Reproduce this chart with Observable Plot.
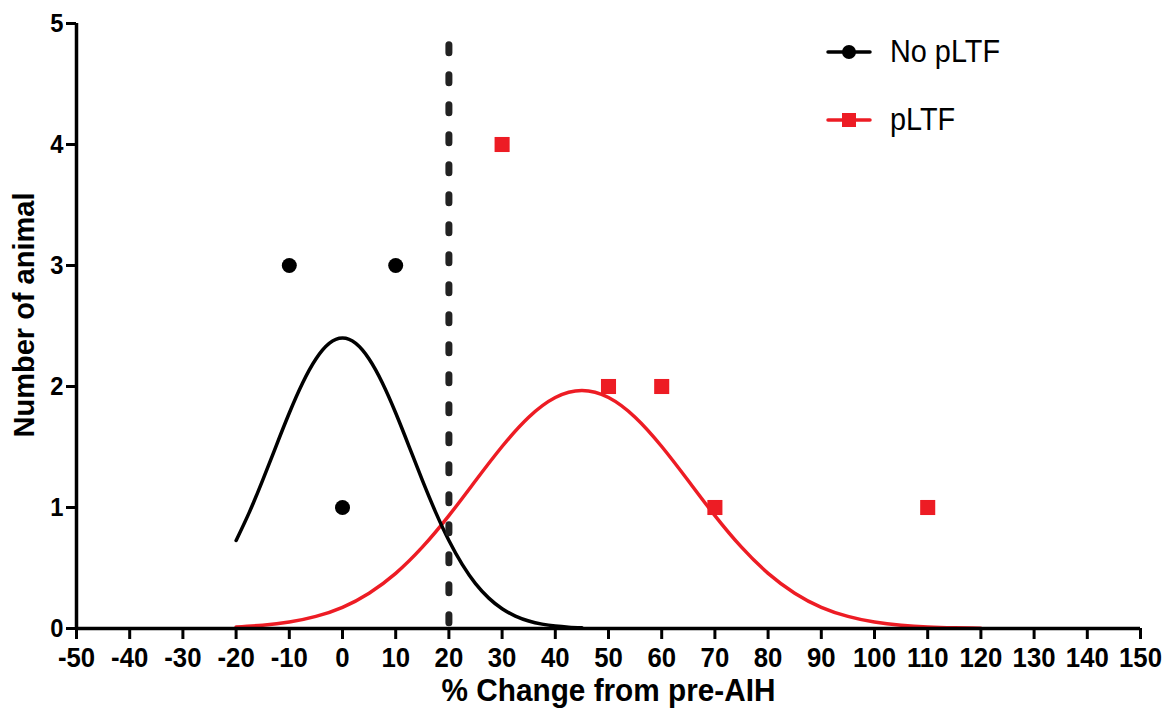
<!DOCTYPE html>
<html>
<head>
<meta charset="utf-8">
<script src="https://cdn.jsdelivr.net/npm/d3@7"></script>
<script src="https://cdn.jsdelivr.net/npm/@observablehq/plot@0.6"></script>
<style>
  html, body { margin: 0; padding: 0; background: #fff; }
  #wrap { position: relative; width: 1176px; height: 722px; font-family: "Liberation Sans", Arial, sans-serif; }
  #legend { position: absolute; left: 826px; top: 28px; }
  .item { display: flex; align-items: center; height: 48px; margin-bottom: 20px; }
  .item span { font-size: 31px; margin-left: 18px; color: #000; display: inline-block; transform: scaleX(0.93); transform-origin: left center; }
  #chart svg g[aria-label="x-axis tick label"] { font-size: 28px !important; font-weight: bold !important; }
  #chart svg g[aria-label="y-axis tick label"] { font-size: 25px !important; font-weight: bold !important; }
</style>
</head>
<body>
<div id="wrap">
  <div id="chart"></div>
  <div id="legend"></div>
</div>
<script>
// Data points (histogram counts)
const noX = [-10, 10, 0];
const noY = [3, 3, 1];
const pX = [30, 50, 60, 70, 110];
const pY = [4, 2, 2, 1, 1];

// Fitted Gaussian curves
const noCurveX = [-20, -17.5, -15, -12.5, -10, -7.5, -5, -2.5, 0, 2.5, 5, 7.5, 10, 12.5, 15, 17.5, 20, 22.5, 25, 27.5, 30, 32.5, 35, 37.5, 40, 42.5, 45];
const noCurveY = [0.727, 0.962, 1.226, 1.506, 1.781, 2.029, 2.227, 2.356, 2.40, 2.356, 2.227, 2.029, 1.781, 1.506, 1.226, 0.962, 0.727, 0.530, 0.371, 0.251, 0.163, 0.103, 0.062, 0.036, 0.020, 0.011, 0.006];
const pCurveX = [-20, -15, -10, -5, 0, 5, 10, 15, 20, 25, 30, 35, 40, 45, 50, 55, 60, 65, 70, 75, 80, 85, 90, 95, 100, 105, 110, 115, 120];
const pCurveY = [0.013, 0.027, 0.053, 0.100, 0.175, 0.292, 0.456, 0.672, 0.933, 1.221, 1.504, 1.746, 1.909, 1.967, 1.909, 1.746, 1.504, 1.221, 0.933, 0.672, 0.456, 0.292, 0.175, 0.100, 0.053, 0.027, 0.013, 0.006, 0.002];

const xTicks = [-50, -40, -30, -20, -10, 0, 10, 20, 30, 40, 50, 60, 70, 80, 90, 100, 110, 120, 130, 140, 150];
const yTicks = [0, 1, 2, 3, 4, 5];
const threshold = 20;
const thresholdTop = 4.82;
const thresholdBottom = -0.09;

const xLabel = "% Change from pre-AIH";
const yLabel = "Number of animal";
const seriesNames = ["No pLTF", "pLTF"];
const RED = "#ed1c24";

const noPts = noX.map((x, i) => ({x, y: noY[i]}));
const pPts = pX.map((x, i) => ({x, y: pY[i]}));
const noCurve = noCurveX.map((x, i) => ({x, y: noCurveY[i]}));
const pCurve = pCurveX.map((x, i) => ({x, y: pCurveY[i]}));

const chart = Plot.plot({
  width: 1176,
  height: 722,
  marginLeft: 76,
  marginRight: 36,
  marginTop: 23,
  marginBottom: 94,
  style: {fontFamily: "'Liberation Sans', Arial, sans-serif", color: "#000", background: "#fff"},
  x: {domain: [-50, 150], ticks: xTicks},
  y: {domain: [0, 5], ticks: yTicks},
  marks: [
    Plot.axisX({ticks: xTicks, tickFormat: d => String(d), tickSize: 11, tickPadding: 8, fontSize: 28, fontWeight: "bold", strokeWidth: 3, label: null}),
    Plot.axisY({ticks: yTicks, tickFormat: d => String(d), tickSize: 10, tickPadding: 3, fontSize: 25, fontWeight: "bold", strokeWidth: 3, label: null}),
    Plot.line(pCurve, {x: "x", y: "y", stroke: RED, strokeWidth: 3.5, curve: "natural"}),
    Plot.line(noCurve, {x: "x", y: "y", stroke: "#000", strokeWidth: 3.5, curve: "natural"}),
    Plot.ruleY([0], {strokeWidth: 3.5, stroke: "#000"}),
    Plot.ruleX([-50], {y1: 0, y2: 5, strokeWidth: 3.5, stroke: "#000"}),
    Plot.ruleX([threshold], {y1: thresholdTop, y2: thresholdBottom, stroke: "#222", strokeWidth: 7, strokeDasharray: "8,22", strokeLinecap: "round"}),
    Plot.dot(noPts, {x: "x", y: "y", r: 7.5, fill: "#000", stroke: "none"}),
    Plot.dot(pPts, {x: "x", y: "y", r: 8.5, symbol: "square", fill: RED, stroke: "none"}),
    Plot.text([xLabel], {frameAnchor: "bottom", dy: 72, fontSize: 32, fontWeight: "bold", fill: "#000"}),
    Plot.text([yLabel], {frameAnchor: "left", textAnchor: "middle", dx: -52, dy: -11, rotate: -90, fontSize: 29, fontWeight: "bold", fill: "#000"})
  ]
});

// Narrow the horizontal text a little, as in the reference rendering
d3.select(chart).selectAll("text").each(function() {
  const t = this.getAttribute("transform") || "";
  if (t.includes("rotate")) return;
  const label = (this.parentNode && this.parentNode.getAttribute("aria-label")) || "";
  const SX = label.startsWith("x-axis") ? 0.92 : label.startsWith("y-axis") ? 0.95 : 0.93;
  const xs = this.getAttribute("x");
  if (xs !== null && xs !== "") {
    const xv = Number(xs);
    if (!Number.isFinite(xv)) return;
    this.setAttribute("x", xv / SX);
  }
  this.setAttribute("transform", `${t} scale(${SX},1)`.trim());
});
document.getElementById("chart").appendChild(chart);

// Legend
const legend = document.getElementById("legend");
const swatches = [
  `<svg width="46" height="20"><line x1="2" y1="10" x2="44" y2="10" stroke="#000" stroke-width="3.5" stroke-linecap="round"/><circle cx="23" cy="10" r="7" fill="#000"/></svg>`,
  `<svg width="46" height="20"><line x1="2" y1="10" x2="44" y2="10" stroke="${RED}" stroke-width="3.5" stroke-linecap="round"/><rect x="16" y="3" width="14" height="14" fill="${RED}"/></svg>`
];
seriesNames.forEach((name, i) => {
  const div = document.createElement("div");
  div.className = "item";
  div.innerHTML = swatches[i] + `<span>${name}</span>`;
  legend.appendChild(div);
});
</script>
</body>
</html>
